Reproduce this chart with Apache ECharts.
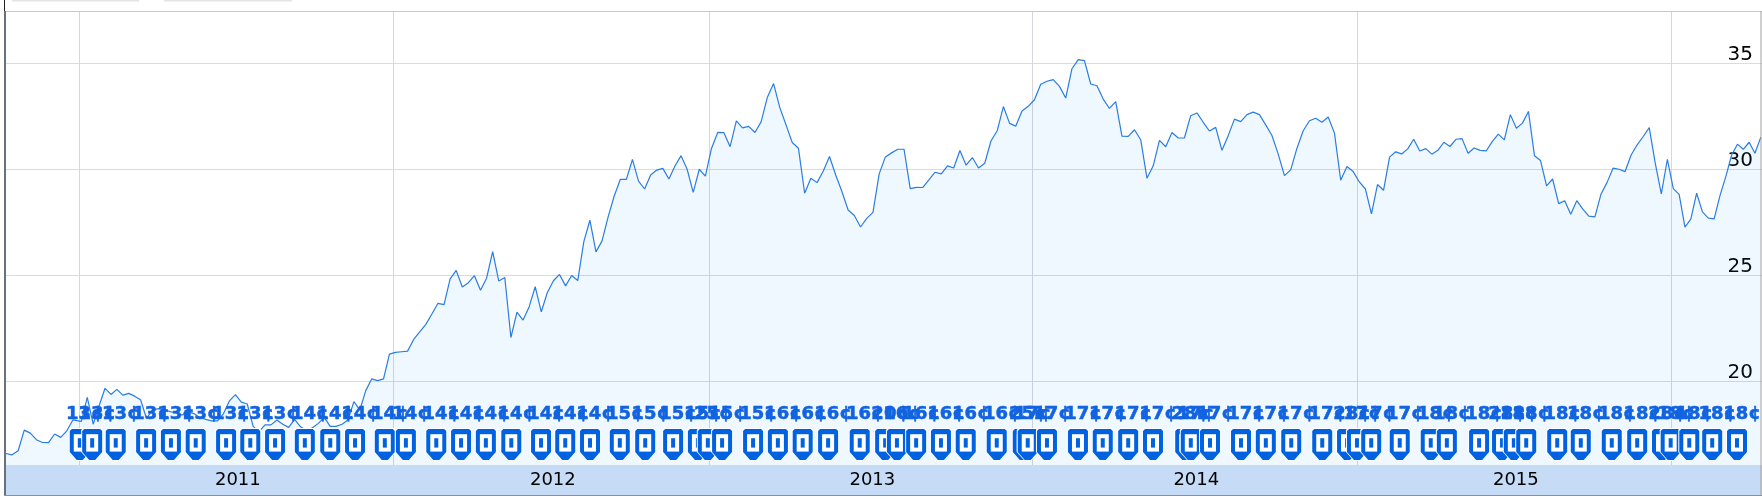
<!DOCTYPE html>
<html><head><meta charset="utf-8">
<style>html,body{margin:0;padding:0;background:#fff}#c{width:1762px;height:500px}</style>
<script src="https://cdn.jsdelivr.net/npm/echarts@6/dist/echarts.min.js"></script>
</head><body><div id="c"></div>
<script>
const price2010 = [16.62,16.56,16.75,17.72,17.58,17.27,17.14,17.13,17.54,17.38,17.69,18.2];
const price2011 = [18.13,19.26,18.0,18.87,19.69,19.4,19.64,19.37,19.45,19.32,19.15,18.27,18.67,18.73,18.67,18.59,18.54,18.43,18.59,18.5,18.32,18.23,18.16,18.16,18.5,19.1,19.39,19.04,18.95,17.9,17.65,17.97,17.97,18.2,18.0,17.85,18.23,17.88,17.7,17.83,18.04,18.32,17.9,17.9,18.0,18.2,19.06,18.67,19.58,20.13,20.05,20.13,21.3];
const price2012 = [21.38,21.41,21.44,21.99,22.34,22.7,23.19,23.69,23.63,24.84,25.24,24.46,24.66,24.99,24.3,24.87,26.12,24.74,24.9,22.08,23.27,22.9,23.52,24.47,23.29,24.2,24.75,25.05,24.51,25.0,24.76,26.59,27.6,26.11,26.63,27.76,28.74,29.52,29.52,30.46,29.44,29.07,29.73,29.96,30.04,29.54,30.15,30.64,30.0,28.91,30.0,29.68];
const price2013 = [30.98,31.73,31.72,31.06,32.28,31.95,32.02,31.73,32.24,33.39,34.03,32.9,32.09,31.26,30.99,28.87,29.58,29.37,29.92,30.6,29.73,28.95,28.08,27.82,27.28,27.69,27.97,29.78,30.58,30.77,30.94,30.94,29.09,29.15,29.14,29.5,29.86,29.78,30.16,30.06,30.88,30.19,30.55,30.06,30.28,31.33,31.81,32.95,32.16,32.03,32.74,32.96];
const price2014 = [33.27,34.0,34.14,34.22,33.9,33.35,34.73,35.16,35.11,34.01,33.93,33.3,32.86,33.18,31.56,31.55,31.86,31.39,29.58,30.16,31.36,31.06,31.73,31.47,31.48,32.52,32.65,32.21,31.8,31.97,30.89,31.58,32.36,32.24,32.57,32.69,32.57,32.09,31.59,30.71,29.7,29.97,30.99,31.81,32.28,32.4,32.21,32.46,31.7,29.48,30.13,29.89];
const price2015 = [29.4,29.07,27.9,29.28,29.01,30.57,30.82,30.72,30.96,31.41,30.86,30.97,30.71,30.89,31.27,31.07,31.41,31.44,30.75,31.0,30.89,30.86,31.3,31.65,31.38,32.57,31.93,32.17,32.72,30.63,30.41,29.22,29.54,28.38,28.52,27.88,28.52,28.12,27.79,27.76,28.82,29.37,30.05,30.0,29.89,30.67,31.15,31.54,31.96,30.28,28.84,30.47];
const price2016 = [29.09,28.82,27.28,27.65,28.87,27.99,27.7,27.66,28.76,29.65,30.67,31.18,30.94,31.27,30.75,31.51];
const yearArrays = [price2010,price2011,price2012,price2013,price2014,price2015,price2016];
const yearLabels = ['2010','2011','2012','2013','2014','2015','2016'];
const yearWeeks = [0,11.77,62.42,113.39,165.48,217.9,268.55,283.6];
const yTicks = [20,25,30,35];
const dividendWeeks = [11.9,13.9,17.7,22.6,26.6,30.6,35.5,39.4,43.4,48.2,52.3,56.3,61.1,64.5,69.4,73.4,77.4,81.5,86.3,90.2,94.2,99.0,103.1,107.6,111.6,113.2,115.5,120.5,124.5,128.5,132.6,137.7,141.8,143.7,146.8,150.8,154.8,159.8,164.0,164.8,167.9,172.9,176.9,181.0,185.0,190.2,191.1,194.2,199.2,203.2,207.3,212.3,216.3,217.9,220.2,224.8,229.8,232.4,237.6,241.3,243.2,245.2,250.2,254.0,259.0,263.1,267.1,268.5,271.5,275.2,279.2];
const dividendCents = [13,13,13,13,13,13,13,13,13,14,14,14,14,14,14,14,14,14,14,14,14,15,15,15,15,25,15,15,16,16,16,16,20,16,16,16,16,16,25,17,17,17,17,17,17,28,17,17,17,17,17,17,28,17,17,17,18,18,18,28,18,18,18,18,18,18,28,18,18,18,18];

const lineData = [];
yearArrays.forEach((arr,k)=>{
  const step=(yearWeeks[k+1]-yearWeeks[k])/arr.length;
  const lead=k===0?0:0.4;
  arr.forEach((v,j)=>lineData.push([yearWeeks[k]+(j+lead)*step,v]));
});
const midYears = [];
for(let k=1;k<=5;k++) midYears.push((yearWeeks[k]+yearWeeks[k+1])/2+0.3);
const pinLevel = 17.12;
const BLUE='#0062e0';

const chart = echarts.init(document.getElementById('c'),null,{renderer:'canvas'});
chart.setOption({
  animation:false,
  backgroundColor:'#fff',
  grid:[
    {left:6,right:0,top:12,height:453},
    {left:6,right:0,top:465,height:30,show:true,backgroundColor:'#c6dbf5',borderWidth:0}
  ],
  xAxis:[
    {gridIndex:0,type:'value',min:0,max:283.23,
      axisLine:{show:false},axisLabel:{show:false},
      axisTick:{show:false,customValues:yearWeeks.slice(1,7)},
      splitLine:{show:true,lineStyle:{color:'#d6d6de',width:1}}},
    {gridIndex:1,type:'value',min:0,max:283.23,
      axisLine:{show:false},
      axisTick:{show:false,customValues:midYears},
      splitLine:{show:false},
      axisLabel:{show:true,inside:true,margin:6,customValues:midYears,
        color:'#000',fontFamily:'DejaVu Sans',fontSize:18,
        formatter:v=>{const i=midYears.findIndex(m=>Math.abs(m-v)<1e-6);return yearLabels[i+1]||'';}}}
  ],
  yAxis:[
    {gridIndex:0,type:'value',min:16.08,max:37.4,position:'right',
      axisLine:{show:false},
      axisTick:{show:false,customValues:yTicks},
      splitLine:{show:true,lineStyle:{color:'#d9d9ea',width:1}},
      axisLabel:{show:true,inside:true,margin:9,customValues:yTicks,verticalAlign:'bottom',
        color:'#000',fontFamily:'DejaVu Sans',fontSize:20,lineHeight:17}},
    {gridIndex:1,type:'value',min:0,max:1,show:false}
  ],
  series:[
    {type:'line',xAxisIndex:0,yAxisIndex:0,data:lineData,symbol:'none',smooth:false,clip:true,z:2,
      lineStyle:{color:'#2a7de1',width:1.2},
      areaStyle:{color:'rgba(45,150,250,0.105)',origin:'start'}},
    {type:'custom',xAxisIndex:0,yAxisIndex:0,z:5,clip:false,
      data:dividendWeeks.map((w,i)=>[w,pinLevel,dividendCents[i]]),
      encode:{x:0,y:1},
      renderItem:(params,api)=>{
        const c=api.coord([api.value(0),api.value(1)]);
        const x=c[0],y=c[1];
        return {type:'group',children:[
          {type:'polygon',shape:{points:[[x-11,y-13],[x-9,y-15],[x+9,y-15],[x+11,y-13],[x+11,y+9],[x+3,y+18],[x-3,y+18],[x-11,y+9]]},
            style:{fill:'#fff'}},
          {type:'polygon',shape:{points:[[x-10,y-12],[x-8,y-14],[x+8,y-14],[x+10,y-12],[x+10,y+9],[x+3,y+17],[x-3,y+17],[x-10,y+9]]},
            style:{fill:BLUE}},
          {type:'rect',shape:{x:x-6,y:y-8.7,width:12,height:17.4},style:{fill:'#fff'}},
          {type:'rect',shape:{x:x-2,y:y-4.7,width:4,height:9.4},style:{fill:BLUE}},
          {type:'text',style:{x:x+5,y:y-28.5,text:api.value(2)+'¢',fill:'#1263e0',stroke:'#1263e0',lineWidth:0.5,
            font:'bold 18px "DejaVu Sans"',textAlign:'center',textVerticalAlign:'middle'}}
        ]};
      }}
  ],
  graphic:[
    {type:'rect',shape:{x:4,y:11,width:2,height:484},style:{fill:'#66727c'},z:20},
    {type:'rect',shape:{x:4,y:0,width:1,height:11},style:{fill:'#222'},z:20},
    {type:'rect',shape:{x:6,y:11,width:1756,height:1},style:{fill:'#c8c8c8'},z:20},
    {type:'rect',shape:{x:4,y:495,width:1758,height:1},style:{fill:'#8f8f8f'},z:20},
    {type:'rect',shape:{x:1760.5,y:11,width:1,height:484},style:{fill:'#a0a0a0'},z:20},
    {type:'rect',shape:{x:12,y:0,width:127,height:1.5},style:{fill:'#e4e4e4'},z:20},
    {type:'rect',shape:{x:164,y:0,width:128,height:1.5},style:{fill:'#e4e4e4'},z:20}
  ]
});
</script></body></html>
